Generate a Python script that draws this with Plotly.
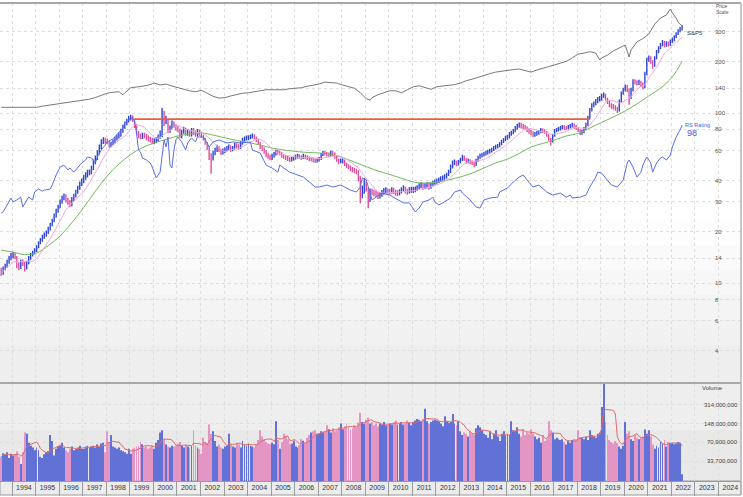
import numpy as np
import pandas as pd
import plotly.graph_objects as go
from plotly.subplots import make_subplots

# ---------------- data (monthly bars, Jul 1993 .. Jun 2022) ----------------
START_MONTH = "1993-07"
first_open = 11.9
close = [
    11.4, 12.2, 12.6, 13.3, 14.0, 14.6,
    14.6, 14.2, 12.6, 12.4, 13.3, 13.0, 12.2, 13.1, 14.0, 14.6, 15.0, 15.6,
    16.2, 17.2, 17.9, 18.6, 19.2, 19.7, 20.8, 21.9, 23.2, 24.8, 26.5, 28.0,
    30.0, 31.6, 32.5, 30.8, 30.0, 29.2, 31.2, 32.5, 34.3, 36.2, 38.2, 39.9,
    42.0, 43.2, 44.9, 44.9, 47.5, 51.5, 54.4, 58.2, 63.1, 67.6, 69.4, 68.5,
    67.6, 64.8, 65.7, 67.6, 70.4, 72.3, 74.2, 78.3, 82.7, 86.3, 89.7, 93.5,
    94.8, 91.0, 83.8, 76.3, 73.3, 72.3, 74.2, 73.3, 71.4, 70.4, 69.4, 67.6,
    68.5, 69.4, 72.3, 76.3, 96.0, 88.6, 91.0, 78.3, 81.6, 87.5, 83.8, 81.6,
    79.4, 73.3, 77.3, 80.5, 75.2, 78.3, 74.2, 79.4, 77.3, 74.2, 78.3, 75.2,
    73.3, 70.4, 66.6, 62.2, 56.6, 54.4, 58.2, 60.6, 63.1, 60.6, 58.2, 59.8,
    60.6, 62.2, 63.1, 60.6, 62.2, 64.8, 63.9, 62.2, 66.6, 69.4, 70.4, 71.4,
    71.4, 72.3, 73.3, 71.4, 69.4, 66.6, 63.1, 61.4, 59.0, 56.6, 55.1, 54.4,
    55.9, 57.4, 59.0, 58.2, 58.2, 55.9, 55.1, 54.4, 53.6, 52.9, 53.6, 54.4,
    55.1, 55.9, 55.1, 54.4, 55.9, 55.1, 54.4, 53.6, 53.6, 52.9, 52.2, 52.9,
    53.6, 56.6, 58.2, 57.4, 56.6, 56.6, 58.2, 57.4, 55.1, 52.9, 51.5, 52.2,
    52.2, 50.1, 48.7, 48.1, 46.8, 46.2, 45.6, 44.9, 41.5, 33.8, 35.2, 38.2,
    35.7, 30.8, 34.7, 34.3, 33.8, 33.4, 32.5, 32.9, 33.8, 34.7, 35.2, 34.3,
    34.3, 35.2, 34.7, 33.8, 33.8, 34.3, 35.2, 36.2, 34.7, 34.3, 35.2, 35.2,
    35.2, 35.7, 36.2, 37.2, 37.7, 36.7, 37.2, 37.7, 36.7, 37.7, 38.7, 39.3,
    39.9, 40.4, 41.0, 41.5, 42.1, 43.2, 44.9, 48.1, 50.8, 51.5, 50.1, 51.5,
    52.9, 55.1, 53.6, 51.5, 52.2, 51.5, 50.8, 49.4, 52.2, 54.4, 55.9, 56.6,
    57.4, 58.2, 59.0, 59.8, 60.6, 62.2, 63.1, 63.9, 65.7, 67.6, 69.4, 71.4,
    72.3, 75.2, 76.3, 78.3, 81.6, 83.8, 85.0, 83.8, 82.7, 81.6, 79.4, 77.3,
    76.3, 74.2, 75.2, 76.3, 77.3, 79.4, 78.3, 77.3, 74.2, 70.4, 67.6, 73.3,
    78.3, 79.4, 80.5, 81.6, 82.7, 81.6, 81.6, 82.7, 83.8, 85.0, 82.7, 81.6,
    79.4, 76.3, 77.3, 80.5, 85.0, 93.5, 104, 111, 114, 117, 121, 122,
    126, 128, 121, 116, 111, 110, 108, 107, 104, 117, 130, 137,
    142, 137, 124, 137, 154, 152, 150, 152, 148, 142, 170, 205,
    211, 200, 189, 211, 229, 241, 251, 262, 248, 258, 251, 265,
    269, 280, 292, 304, 312, 321,
]
high = [
    12.3, 12.5, 13.0, 13.7, 14.4, 15.0,
    15.3, 15.0, 14.4, 13.1, 13.7, 13.8, 13.3, 13.5, 14.4, 15.0, 15.5, 16.0,
    16.7, 17.6, 18.4, 19.2, 19.8, 20.4, 21.4, 22.6, 23.9, 25.6, 27.3, 28.9,
    31.0, 32.6, 33.6, 33.3, 31.6, 30.8, 32.1, 33.5, 35.4, 37.4, 39.5, 41.2,
    43.4, 44.8, 46.4, 46.6, 49.0, 53.2, 56.3, 60.3, 65.3, 70.0, 72.0, 71.5,
    70.8, 68.5, 67.8, 69.8, 72.6, 74.6, 76.8, 80.8, 85.3, 89.0, 92.5, 96.5,
    97.8, 97.0, 92.5, 85.5, 78.5, 75.8, 76.6, 76.5, 75.5, 73.8, 72.6, 71.5,
    71.0, 72.0, 74.8, 79.0, 107, 103, 96.5, 92.0, 84.5, 90.5, 89.5, 86.0,
    84.0, 81.0, 79.5, 83.0, 82.0, 80.5, 79.8, 81.5, 81.5, 78.8, 80.5, 79.8,
    77.5, 74.5, 71.5, 67.5, 63.0, 58.0, 60.0, 62.5, 65.0, 64.0, 61.5, 61.8,
    62.8, 64.0, 65.2, 64.5, 64.0, 66.8, 66.5, 65.5, 68.5, 71.5, 72.8, 73.8,
    74.0, 74.8, 75.8, 75.0, 72.8, 70.6, 67.6, 64.5, 62.8, 60.5, 58.0, 56.8,
    57.6, 59.0, 60.8, 60.5, 60.0, 58.8, 57.4, 56.5, 55.8, 55.0, 55.2, 56.0,
    56.8, 57.6, 57.2, 56.4, 57.6, 57.0, 56.4, 55.6, 55.2, 54.8, 54.0, 54.5,
    55.2, 58.2, 60.0, 59.8, 59.0, 58.5, 60.2, 59.8, 58.5, 56.4, 54.0, 54.0,
    54.0, 53.2, 51.0, 50.0, 49.2, 48.2, 47.6, 47.0, 46.0, 42.5, 37.5, 41.5,
    39.5, 36.5, 36.0, 35.8, 35.4, 35.0, 34.4, 34.2, 35.2, 36.2, 36.6, 36.0,
    35.8, 36.6, 36.4, 35.4, 35.2, 35.6, 36.6, 37.6, 37.0, 35.8, 36.6, 36.8,
    36.8, 37.0, 37.6, 38.6, 39.2, 38.8, 38.6, 39.2, 39.0, 39.0, 40.0, 40.6,
    41.2, 41.8, 42.4, 42.9, 43.6, 44.6, 46.4, 49.8, 52.6, 53.2, 52.6, 53.0,
    54.6, 56.8, 56.2, 54.4, 53.8, 53.4, 52.6, 51.6, 53.8, 56.0, 57.6, 58.4,
    59.2, 60.0, 60.8, 61.6, 62.4, 64.0, 65.0, 65.8, 67.6, 69.6, 71.4, 73.6,
    74.6, 77.4, 78.6, 80.6, 84.0, 86.4, 88.0, 87.6, 86.2, 85.0, 83.4, 81.0,
    79.4, 78.0, 77.2, 78.4, 79.4, 81.6, 81.2, 80.2, 78.4, 75.0, 71.6, 75.2,
    80.4, 81.6, 82.8, 84.0, 85.0, 84.6, 84.0, 85.0, 86.2, 87.6, 86.8, 85.0,
    82.8, 80.6, 79.6, 82.8, 87.6, 96.4, 107, 114, 117, 121, 124, 126,
    130, 132, 130, 123, 118, 114, 113, 111, 109, 120, 134, 141,
    147, 146, 140, 141, 158, 158, 156, 157, 155, 151, 175, 211,
    218, 216, 204, 216, 235, 247, 258, 269, 265, 264, 263, 271,
    278, 287, 299, 311, 320, 328,
]
low = [
    11.0, 11.2, 11.9, 12.3, 13.0, 13.6,
    14.0, 13.8, 12.2, 11.9, 12.1, 12.6, 11.7, 12.0, 12.9, 13.7, 14.3, 14.7,
    15.2, 16.0, 16.9, 17.5, 18.2, 18.7, 19.4, 20.4, 21.6, 22.8, 24.3, 25.9,
    27.5, 29.3, 30.7, 29.8, 28.9, 28.0, 28.3, 30.4, 31.8, 33.5, 35.4, 37.2,
    38.6, 40.5, 41.8, 43.0, 43.6, 46.2, 50.0, 53.0, 57.0, 61.5, 65.8, 66.0,
    65.5, 62.5, 63.0, 64.6, 66.4, 69.0, 70.8, 72.5, 76.6, 80.8, 84.6, 88.0,
    90.5, 88.5, 81.5, 74.0, 71.0, 70.0, 70.4, 71.0, 69.2, 68.0, 67.0, 65.4,
    65.6, 66.5, 68.0, 70.5, 72.0, 84.0, 86.0, 76.0, 76.5, 80.0, 81.5, 79.0,
    77.0, 71.5, 71.0, 75.5, 73.5, 73.5, 72.5, 72.8, 74.0, 72.5, 72.8, 73.6,
    71.5, 68.8, 65.0, 60.5, 53.0, 44.0, 52.5, 56.5, 59.0, 59.0, 56.6, 57.0,
    58.2, 59.5, 60.8, 59.0, 59.5, 61.0, 62.0, 60.8, 61.5, 65.0, 68.0, 69.0,
    69.2, 70.0, 70.8, 69.8, 67.6, 65.0, 61.5, 59.8, 57.5, 55.0, 53.6, 52.8,
    53.0, 54.6, 56.2, 56.8, 56.5, 54.6, 53.8, 53.0, 52.2, 51.5, 51.8, 52.6,
    53.2, 54.0, 53.8, 53.0, 53.6, 53.6, 52.9, 52.2, 52.0, 51.4, 50.8, 51.2,
    51.8, 53.0, 55.8, 56.2, 55.4, 55.0, 55.6, 55.8, 53.8, 51.6, 50.0, 50.6,
    50.4, 48.8, 47.4, 46.8, 45.5, 44.8, 44.2, 43.6, 39.5, 29.5, 31.5, 33.5,
    34.5, 27.5, 30.0, 32.8, 32.4, 32.0, 31.2, 31.4, 32.2, 33.0, 33.8, 33.0,
    33.0, 33.6, 33.4, 32.6, 32.4, 32.8, 33.6, 34.6, 33.6, 33.0, 33.6, 34.0,
    33.8, 34.2, 34.8, 35.6, 36.2, 35.4, 35.6, 36.0, 35.4, 35.8, 37.0, 37.8,
    38.4, 38.8, 39.4, 40.0, 40.5, 41.2, 42.6, 44.4, 47.2, 49.4, 48.6, 49.2,
    50.6, 52.2, 52.4, 50.2, 50.6, 50.0, 49.4, 48.0, 48.8, 51.6, 53.8, 54.8,
    55.4, 56.2, 57.0, 57.8, 58.6, 59.8, 61.0, 61.8, 62.8, 64.6, 66.6, 68.4,
    69.6, 70.8, 73.4, 75.0, 77.0, 80.0, 82.0, 81.0, 80.4, 79.6, 77.4, 75.4,
    74.0, 72.2, 72.4, 73.6, 74.6, 76.0, 76.4, 75.4, 72.4, 68.6, 64.5, 67.0,
    72.6, 77.0, 78.0, 79.0, 80.0, 79.6, 79.4, 80.0, 81.0, 82.2, 80.8, 79.6,
    77.4, 74.2, 74.6, 76.0, 79.4, 84.0, 92.0, 102, 108, 111, 114, 117,
    118, 123, 118, 113, 108, 106, 105, 103, 100, 102, 115, 128,
    134, 133, 112, 121, 134, 147, 145, 146, 143, 138, 140, 167,
    200, 195, 182, 187, 207, 225, 237, 247, 243, 245, 246, 248,
    258, 264, 276, 288, 299, 306,
]
volume_m = [
    40, 46, 44, 48, 38, 45,
    42, 44, 50, 40, 30, 48, 105, 100, 70, 62, 58, 52,
    58, 52, 40, 38, 44, 48, 50, 95, 75, 42, 55, 60,
    62, 70, 58, 52, 48, 55, 60, 52, 55, 58, 62, 55,
    55, 60, 62, 58, 60, 62, 58, 65, 60, 68, 70, 48,
    110, 72, 95, 60, 58, 55, 58, 52, 50, 48, 45, 55,
    45, 55, 58, 60, 62, 72, 66, 58, 60, 55, 58, 62,
    55, 70, 78, 105, 115, 80, 65, 60, 58, 62, 60, 62,
    68, 72, 62, 58, 64, 60, 58, 62, 115, 62, 58, 55,
    45, 85, 72, 68, 145, 100, 110, 75, 60, 65, 58, 55,
    60, 62, 100, 65, 60, 58, 70, 65, 58, 75, 66, 62,
    68, 62, 60, 58, 66, 78, 115, 90, 80, 72, 68, 66,
    70, 66, 165, 78, 55, 72, 100, 90, 80, 66, 68, 76,
    60, 58, 64, 80, 76, 70, 85, 95, 105, 110, 115, 100,
    100, 110, 105, 112, 140, 120, 105, 125, 110, 115, 130, 150,
    120, 135, 150, 130, 120, 125, 140, 130, 155, 230, 160, 150,
    175, 190, 150, 160, 140, 150, 135, 150, 145, 160, 140, 145,
    150, 145, 160, 170, 145, 150, 160, 145, 150, 170, 155, 140,
    160, 170, 180, 175, 160, 180, 270, 165, 150, 160, 170, 175,
    170, 165, 150, 135, 200, 165, 155, 160, 220, 150, 140, 165,
    110, 95, 105, 100, 90, 110, 100, 95, 125, 140, 130, 115,
    100, 95, 85, 110, 80, 100, 115, 90, 75, 100, 110, 95,
    100, 95, 165, 115, 110, 130, 100, 90, 120, 95, 105, 100,
    120, 100, 90, 80, 85, 70, 95, 75, 80, 165, 115, 105,
    80, 85, 80, 78, 80, 72, 65, 75, 70, 78, 82, 80,
    115, 88, 85, 80, 90, 78, 115, 95, 90, 85, 100, 105,
    290, 1000, 160, 95, 78, 72, 68, 75, 70, 60, 55, 62,
    160, 100, 110, 80, 75, 95, 85, 80, 85, 90, 118, 100,
    115, 90, 65, 55, 62, 58, 72, 68, 78, 60, 72, 70,
    70, 66, 68, 72, 70, 20,
]

# S&P 500 overlay line (in price-scale units)
sp_dates = ["1993-07", "1993-10", "1994-01", "1994-04", "1994-07", "1994-10", "1995-01", "1995-04", "1995-07", "1995-10",
            "1996-01", "1996-04", "1996-07", "1996-10", "1997-01", "1997-04", "1997-07", "1997-10", "1998-01", "1998-04",
            "1998-07", "1998-09", "1998-10", "1999-01", "1999-04", "1999-07", "1999-10", "2000-01", "2000-04", "2000-07",
            "2000-10", "2001-01", "2001-04", "2001-07", "2001-10", "2002-01", "2002-04", "2002-07", "2002-10", "2003-01",
            "2003-04", "2003-07", "2003-10", "2004-01", "2004-04", "2004-07", "2004-10", "2005-01", "2005-04", "2005-07",
            "2005-10", "2006-01", "2006-04", "2006-07", "2006-10", "2007-01", "2007-04", "2007-07", "2007-10", "2008-01",
            "2008-04", "2008-07", "2008-10", "2009-01", "2009-03", "2009-04", "2009-07", "2009-10", "2010-01", "2010-04",
            "2010-07", "2010-10", "2011-01", "2011-04", "2011-07", "2011-10", "2012-01", "2012-04", "2012-07", "2012-10",
            "2013-01", "2013-04", "2013-07", "2013-10", "2014-01", "2014-04", "2014-07", "2014-10", "2015-01", "2015-04",
            "2015-07", "2015-10", "2016-01", "2016-04", "2016-07", "2016-10", "2017-01", "2017-04", "2017-07", "2017-10",
            "2018-01", "2018-04", "2018-07", "2018-10", "2018-12", "2019-01", "2019-04", "2019-07", "2019-10", "2020-01",
            "2020-03", "2020-04", "2020-07", "2020-10", "2021-01", "2021-04", "2021-07", "2021-10", "2021-12", "2022-01",
            "2022-03", "2022-04", "2022-06"]
sp_values = [108, 108, 108, 108, 108, 108, 108, 109.7, 111, 112.6,
             114.1, 115.6, 116.4, 117.2, 119, 120.6, 123.4, 127.1, 130.7, 132.5,
             133.3, 128, 131.5, 140.8, 141.7, 143.6, 146, 150, 146, 148,
             144.1, 140.8, 137, 135.1, 133.3, 136.1, 130.7, 125.4, 122.4, 123.1,
             126, 128.9, 130.7, 131.5, 133.3, 135.1, 137, 137, 137, 137,
             138.9, 139.8, 140.8, 143.6, 146, 148, 152, 150.9, 149.9, 146,
             143.6, 139.8, 131.5, 121.5, 119, 123.1, 128, 131.5, 135.1, 135.1,
             131.5, 137, 142.7, 144.7, 140.8, 137.9, 142.7, 143.6, 144.7, 146.9,
             149.9, 154.9, 158.1, 162.5, 167, 170.5, 174, 176.4, 179, 180,
             181.4, 178, 174, 179, 182.4, 187.4, 192, 197.2, 201, 211,
             222, 225, 229.6, 225, 205, 211, 219, 232, 241, 251,
             213.5, 235, 262, 274, 291.5, 333, 362, 377, 409, 388,
             362, 343, 325]

# long moving average line
ma_long_dates = ["1993-07", "1994-01", "1994-07", "1995-01", "1995-07", "1996-01", "1996-07", "1997-01", "1997-07", "1998-01",
                 "1998-07", "1999-01", "1999-07", "2000-01", "2000-07", "2001-01", "2001-07", "2002-01", "2002-07", "2003-01",
                 "2003-07", "2004-01", "2004-07", "2005-01", "2005-07", "2006-01", "2006-07", "2007-01", "2007-07", "2008-01",
                 "2008-07", "2009-01", "2009-07", "2010-01", "2010-07", "2011-01", "2011-07", "2012-01", "2012-07", "2013-01",
                 "2013-07", "2014-01", "2014-07", "2015-01", "2015-07", "2016-01", "2016-07", "2017-01", "2017-07", "2018-01",
                 "2018-07", "2019-01", "2019-07", "2020-01", "2020-07", "2021-01", "2021-07", "2022-01", "2022-06"]
ma_long_values = [15.6, 15.2, 14.7, 15.0, 16.6, 18.9, 22.6, 27.8, 34.7, 42.6,
                  50.1, 57.0, 62.6, 66.6, 69.9, 73.3, 75.2, 76.3, 74.2, 71.4,
                  69.0, 67.1, 64.8, 62.2, 60.6, 59.4, 58.6, 58.2, 57.0, 54.7,
                  51.5, 48.4, 45.6, 43.5, 41.3, 39.3, 38.7, 39.3, 40.4, 42.1,
                  44.3, 47.5, 50.8, 53.6, 57.8, 63.1, 66.2, 69.4, 73.3, 75.8,
                  81.6, 88.1, 94.8, 102.8, 113, 126, 140, 163, 202]

# relative strength line
rs_dates = ["1993-07", "1993-08", "1993-12", "1994-01", "1994-03", "1994-05", "1994-06", "1994-08", "1994-09", "1994-11",
            "1994-12", "1995-02", "1995-04", "1995-05", "1995-08", "1995-09", "1995-11", "1996-01", "1996-03", "1996-05",
            "1996-06", "1996-08", "1996-10", "1996-12", "1997-02", "1997-03", "1997-05", "1997-07", "1997-08", "1997-10",
            "1997-12", "1998-01", "1998-04", "1998-05", "1998-07", "1998-09", "1998-10", "1998-12", "1999-02", "1999-03",
            "1999-04", "1999-05", "1999-06", "1999-07", "1999-09", "1999-11", "1999-12", "2000-01", "2000-02", "2000-04",
            "2000-05", "2000-06", "2000-07", "2000-08", "2000-09", "2000-10", "2000-11", "2000-12", "2001-01", "2001-03",
            "2001-05", "2001-06", "2001-08", "2001-10", "2001-11", "2002-02", "2002-04", "2002-05", "2002-07", "2002-10",
            "2003-02", "2003-05", "2003-09", "2003-12", "2004-02", "2004-03", "2004-07", "2004-10", "2005-01", "2005-04",
            "2005-05", "2005-07", "2005-10", "2006-02", "2006-05", "2006-08", "2006-11", "2007-01", "2007-05", "2007-08",
            "2007-12", "2008-02", "2008-05", "2008-08", "2008-10", "2008-11", "2009-01", "2009-03", "2009-04", "2009-06",
            "2009-09", "2010-01", "2010-05", "2010-08", "2010-11", "2011-02", "2011-04", "2011-06", "2011-09", "2011-11",
            "2011-12", "2012-02", "2012-04", "2012-08", "2012-10", "2013-01", "2013-02", "2013-06", "2013-09", "2013-11",
            "2014-01", "2014-04", "2014-08", "2014-09", "2015-01", "2015-04", "2015-07", "2015-09", "2015-11", "2015-12",
            "2016-02", "2016-05", "2016-09", "2016-12", "2017-04", "2017-07", "2017-09", "2017-10", "2018-02", "2018-05",
            "2018-07", "2018-10", "2018-11", "2019-01", "2019-04", "2019-06", "2019-09", "2019-12", "2020-02", "2020-03",
            "2020-05", "2020-07", "2020-09", "2020-10", "2020-12", "2021-02", "2021-03", "2021-05", "2021-07", "2021-08",
            "2021-10", "2021-12", "2022-01", "2022-03", "2022-05", "2022-06"]
rs_values = [25.8, 26.2, 31.6, 30.0, 30.8, 32.0, 28.0, 30.8, 32.0, 30.8,
             34.3, 35.7, 34.7, 35.2, 35.7, 37.7, 43.2, 48.1, 49.4, 46.2,
             47.5, 44.9, 48.1, 50.8, 52.9, 55.1, 54.4, 50.8, 55.1, 60.6,
             64.8, 67.6, 70.4, 72.3, 76.3, 81.6, 87.5, 91.0, 93.5, 89.7,
             76.3, 60.6, 59.0, 54.4, 52.9, 50.8, 48.1, 44.3, 41.5, 44.9,
             54.4, 69.4, 63.1, 72.3, 49.4, 47.5, 60.6, 69.4, 72.3, 67.6,
             60.6, 66.6, 71.4, 67.6, 72.3, 72.3, 66.6, 63.1, 67.6, 69.4,
             66.6, 67.6, 66.6, 67.6, 67.6, 60.6, 58.2, 49.4, 47.5, 44.9,
             49.4, 47.5, 44.9, 43.2, 42.0, 39.3, 36.7, 36.7, 37.7, 36.7,
             37.7, 36.7, 35.2, 34.3, 36.7, 41.5, 40.4, 33.8, 30.8, 32.0,
             33.8, 32.9, 30.8, 29.6, 29.6, 26.2, 27.6, 30.0, 30.8, 32.0,
             30.0, 28.8, 29.6, 31.6, 34.3, 35.2, 33.8, 30.8, 28.0, 27.6,
             30.8, 31.6, 32.0, 34.3, 36.2, 39.3, 42.0, 43.2, 40.4, 39.3,
             36.7, 37.7, 34.3, 32.9, 33.8, 32.0, 32.9, 31.6, 32.0, 32.9,
             36.7, 42.0, 44.9, 44.3, 40.4, 37.7, 36.7, 40.4, 50.8, 52.9,
             48.1, 42.0, 44.9, 49.4, 55.1, 50.8, 44.9, 50.8, 54.4, 55.1,
             52.9, 56.6, 63.1, 72.3, 79.4, 85.0]

resist_dates = ["1999-03", "2018-07"]
resist_value = 92
price_ticks = [4, 6, 8, 10, 14, 20, 30, 40, 60, 80, 100, 140, 200, 300]
volume_ticks = [33.7e6, 70.9e6, 148e6, 314e6]
volume_tick_text = ["33,700,000", "70,900,000", "148,000,000", "314,000,000"]
rs_rating = "98"

# ---------------- build ----------------
n = len(close)
assert len(high) == n and len(low) == n and len(volume_m) == n
dates = pd.date_range(START_MONTH + "-01", periods=n, freq="MS") + pd.Timedelta(days=14)
opens = [first_open] + close[:-1]
up = [c >= o for c, o in zip(close, opens)]
vol = np.array(volume_m, dtype=float) * 1e6
ma_short = pd.Series(close).rolling(10, min_periods=1).mean()
vol_ma = pd.Series(vol).rolling(7, min_periods=1).mean()


def mdates(lst):
    return pd.to_datetime(lst, format="%Y-%m") + pd.Timedelta(days=14)


UP, DOWN = "#2f45d8", "#dc4f9c"
VUP, VDOWN = "#6271d6", "#e395c3"
FONT = "Liberation Sans, Arial, sans-serif"

W, H = 743, 497
MT, MB, MR = 3, 16, 2
PH = H - MT - MB
PW = W - MR


def py(px):
    return (H - MB - px) / PH


def pxx(px):
    return px / PW


fig = make_subplots(rows=2, cols=1, shared_xaxes=True, vertical_spacing=0)
fig.add_trace(go.Scatter(x=mdates(sp_dates), y=sp_values, mode="lines",
                         line=dict(color="#6a6a6a", width=0.9)), 1, 1)
fig.add_trace(go.Scatter(x=mdates(ma_long_dates), y=ma_long_values, mode="lines",
                         line=dict(color="#74b95e", width=1, shape="spline")), 1, 1)
fig.add_trace(go.Scatter(x=dates, y=ma_short, mode="lines",
                         line=dict(color="#f0a8e0", width=1)), 1, 1)
fig.add_trace(go.Scatter(x=mdates(resist_dates), y=[resist_value] * 2, mode="lines",
                         line=dict(color="#ee5b3f", width=1.6)), 1, 1)
fig.add_trace(go.Ohlc(x=dates, open=opens, high=high, low=low, close=close,
                      increasing=dict(line=dict(color=UP, width=1.4)),
                      decreasing=dict(line=dict(color=DOWN, width=1.4)),
                      tickwidth=0.3), 1, 1)
fig.add_trace(go.Scatter(x=mdates(rs_dates), y=rs_values, mode="lines",
                         line=dict(color="#5a6fe6", width=1)), 1, 1)
fig.add_trace(go.Bar(x=dates, y=vol, width=14 * 86400000,
                     marker=dict(color=[VUP if u else VDOWN for u in up], line=dict(width=0))), 2, 1)
fig.add_trace(go.Scatter(x=dates, y=vol_ma, mode="lines",
                         line=dict(color="#e26a6a", width=1)), 2, 1)

xr = ["1993-06-27", "2024-12-15"]
grid = dict(showgrid=True, gridcolor="#dedede", griddash="dot", gridwidth=1)
fig.update_xaxes(type="date", range=xr, dtick="M12", tick0="1994-01-01", rangeslider_visible=False,
                 zeroline=False, **grid)
fig.update_layout(
    xaxis=dict(showticklabels=False, ticks=""),
    xaxis2=dict(ticks="outside", ticklen=14, tickcolor="#9a9a9a", tickwidth=1,
                ticklabelmode="period", tickformat="%Y", ticklabelstandoff=-14,
                tickfont=dict(size=7, color="#333", family=FONT),
                showline=True, linecolor="#9a9a9a", linewidth=1),
    yaxis=dict(type="log", range=[0.412, 2.647], domain=[py(383), 1], tickvals=price_ticks,
               showticklabels=False, ticks="", zeroline=False, **grid),
    yaxis2=dict(type="log", range=[7.183, 8.877], domain=[0, py(383)], tickvals=volume_ticks,
                showticklabels=False, ticks="", zeroline=False, **grid),
)

shapes = []
# price-pane soft gradient
grads = [(220, 245, "#fdfdfd"), (245, 270, "#fafafa"), (270, 295, "#f7f7f7"), (295, 320, "#f4f4f4"),
         (320, 345, "#f1f1f1"), (345, 383, "#eeeeee")]
for a, b, c in grads:
    shapes.append(dict(type="rect", xref="paper", yref="paper", x0=0, x1=1, y0=py(b), y1=py(a),
                       fillcolor=c, line=dict(width=0), layer="below"))
shapes.append(dict(type="rect", xref="paper", yref="paper", x0=0, x1=1, y0=py(430), y1=py(383),
                   fillcolor="#eeeeee", line=dict(width=0), layer="below"))
shapes.append(dict(type="rect", xref="paper", yref="paper", x0=0, x1=1, y0=0, y1=py(430),
                   fillcolor="#e9e9e9", line=dict(width=0), layer="below"))
shapes.append(dict(type="rect", xref="paper", yref="paper", x0=0, x1=1, y0=py(495), y1=0,
                   fillcolor="#ececec", line=dict(color="#9a9a9a", width=1), layer="below"))
shapes.append(dict(type="line", xref="paper", yref="paper", x0=0, x1=1, y0=1, y1=1,
                   line=dict(color="#a8a8a8", width=2)))
shapes.append(dict(type="line", xref="paper", yref="paper", x0=0, x1=1, y0=py(383), y1=py(383),
                   line=dict(color="#a8a8a8", width=2)))
shapes.append(dict(type="line", xref="paper", yref="paper", x0=1, x1=1, y0=py(495), y1=1,
                   line=dict(color="#b5b5b5", width=1.5)))

ann = []
for v in price_ticks:
    ann.append(dict(xref="paper", yref="y", x=pxx(713), y=np.log10(v), text=str(v), showarrow=False,
                    xanchor="left", yanchor="middle", font=dict(size=6, color="#555", family=FONT)))
for v, t in zip(volume_ticks, volume_tick_text):
    ann.append(dict(xref="paper", yref="y2", x=pxx(740), y=np.log10(v), text=t, showarrow=False,
                    xanchor="right", yanchor="middle", font=dict(size=6, color="#444", family=FONT)))
ann += [
    dict(xref="paper", yref="paper", x=pxx(712), y=py(388), text="Volume", showarrow=False,
         xanchor="center", yanchor="middle", font=dict(size=6, color="#444", family=FONT)),
    dict(xref="paper", yref="paper", x=pxx(714), y=py(6), text="Price", showarrow=False,
         xanchor="left", yanchor="middle", font=dict(size=5, color="#555", family=FONT)),
    dict(xref="paper", yref="paper", x=pxx(714), y=py(12), text="Scale", showarrow=False,
         xanchor="left", yanchor="middle", font=dict(size=5, color="#555", family=FONT)),
    dict(xref="paper", yref="paper", x=pxx(685), y=py(33), text="S&P5", showarrow=False,
         xanchor="left", yanchor="middle", font=dict(size=6, color="#333", family=FONT)),
    dict(xref="paper", yref="paper", x=pxx(683), y=py(125), text="RS Rating", showarrow=False,
         xanchor="left", yanchor="middle", font=dict(size=5.5, color="#4a5ee0", family=FONT)),
    dict(xref="paper", yref="paper", x=pxx(692), y=py(132.5), text=rs_rating, showarrow=False,
         xanchor="center", yanchor="middle", font=dict(size=9, color="#4a5ee0", family=FONT)),
]

fig.update_layout(width=W, height=H, margin=dict(l=0, r=MR, t=MT, b=MB),
                  paper_bgcolor="white", plot_bgcolor="white", showlegend=False,
                  hovermode=False, bargap=0.3, shapes=shapes, annotations=ann,
                  font=dict(family=FONT))
fig.write_html("out.html")
